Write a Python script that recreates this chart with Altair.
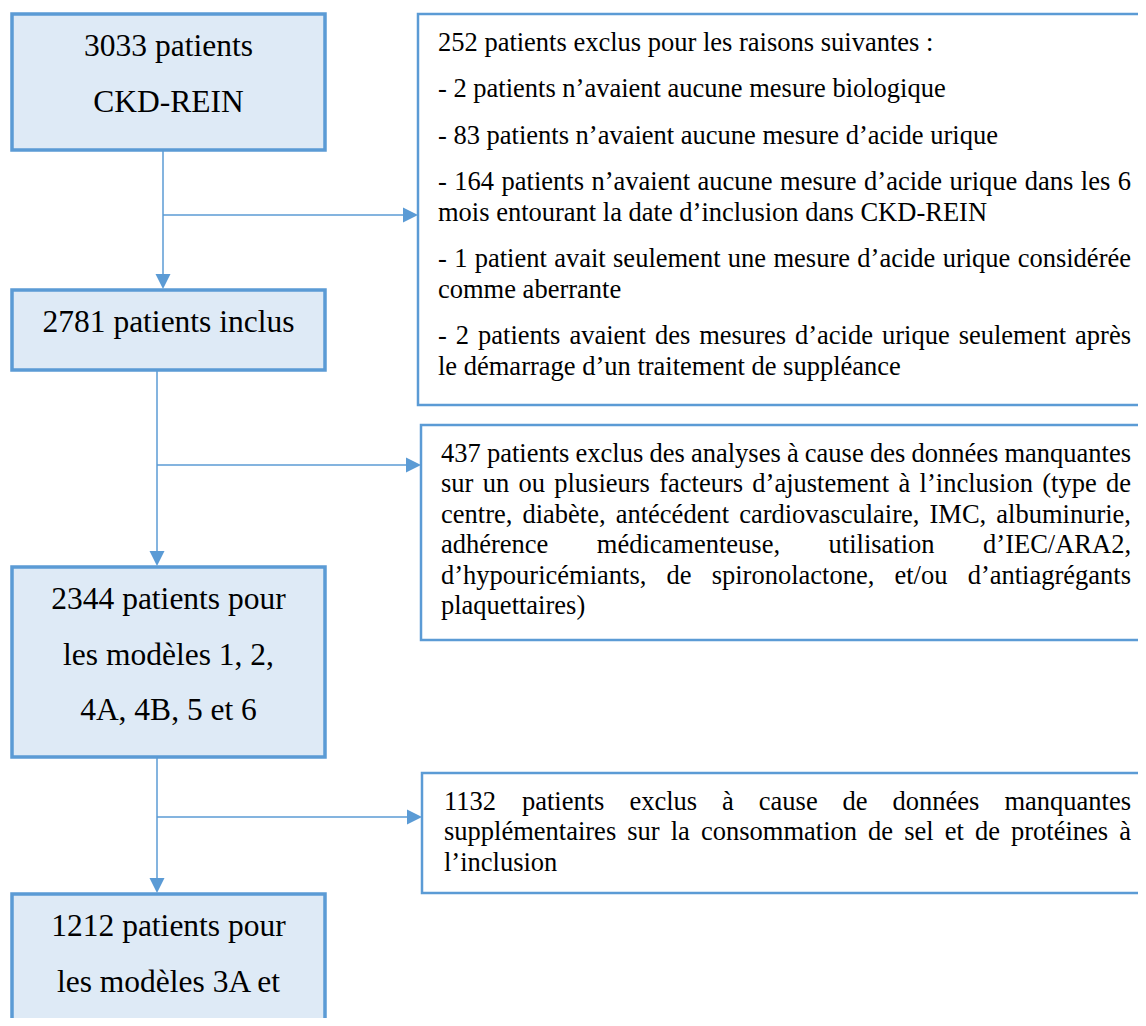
import altair as alt
import pandas as pd

# ---------------- content ----------------
main_counts = [3033, 2781, 2344, 1212]
main_lines = [
    ["3033 patients", "CKD-REIN"],
    ["2781 patients inclus"],
    ["2344 patients pour", "les modèles 1, 2,", "4A, 4B, 5 et 6"],
    ["1212 patients pour", "les modèles 3A et"],
]
excluded_counts = [252, 437, 1132]
excluded_paragraphs = [
    [
        ["252 patients exclus pour les raisons suivantes :"],
        ["- 2 patients n’avaient aucune mesure biologique"],
        ["- 83 patients n’avaient aucune mesure d’acide urique"],
        ["- 164 patients n’avaient aucune mesure d’acide urique dans les 6",
         "mois entourant la date d’inclusion dans CKD-REIN"],
        ["- 1 patient avait seulement une mesure d’acide urique considérée",
         "comme aberrante"],
        ["- 2 patients avaient des mesures d’acide urique seulement après",
         "le démarrage d’un traitement de suppléance"],
    ],
    [
        ["437 patients exclus des analyses à cause des données manquantes",
         "sur un ou plusieurs facteurs d’ajustement à l’inclusion (type de",
         "centre, diabète, antécédent cardiovasculaire, IMC, albuminurie,",
         "adhérence médicamenteuse, utilisation d’IEC/ARA2,",
         "d’hypouricémiants, de spironolactone, et/ou d’antiagrégants",
         "plaquettaires)"],
    ],
    [
        ["1132 patients exclus à cause de données manquantes",
         "supplémentaires sur la consommation de sel et de protéines à",
         "l’inclusion"],
    ],
]

# ---------------- layout (page pixels) ----------------
BLUE = "#5B9BD5"
FILL = "#DEEAF6"
FONT = "Liberation Serif"
MAIN_FS = 31.5
SIDE_FS = 26.5

main_x = (12, 325)
main_y = [(14, 150), (290, 370), (567, 757), (894, 1040)]
main_first = 33
main_pitch = 55.5

side_x = [418, 421, 422]
side_right = 1160
side_y = [(14, 405), (425, 640), (773, 893)]
side_text_left = [438, 441, 444]
side_text_right = 1131
side_first = 28.5
side_pitch = 30.5
side_para_gap = 16

stem_x = [163, 157, 157]
branch_y = [215, 465, 817]
head = 15

# Times / Liberation Serif advance widths (per 1000 em)
W = {' ': 250, '-': 333, ',': 250, '.': 250, ':': 278, '/': 278, '(': 333, ')': 333,
     '’': 333, "'": 333}
for c in "0123456789":
    W[c] = 500
W.update(dict(A=722, B=667, C=667, D=722, E=611, F=556, G=722, H=722, I=333, J=389,
              K=722, L=611, M=889, N=722, O=722, P=556, Q=722, R=667, S=556, T=611,
              U=722, V=722, W=944, X=722, Y=722, Z=611))
W.update(dict(a=444, b=500, c=444, d=500, e=444, f=333, g=500, h=500, i=278, j=278,
              k=500, l=278, m=778, n=500, o=500, p=500, q=500, r=333, s=389, t=278,
              u=500, v=500, w=722, x=500, y=500, z=444))
W.update({'é': 444, 'è': 444, 'à': 444, 'ê': 444})


def tw(s, fs):
    return sum(W.get(ch, 500) for ch in s) * fs / 1000.0


# ---------------- tables ----------------
main_rect = pd.DataFrame([
    {"x": main_x[0], "x2": main_x[1], "y": a, "y2": b, "n": n}
    for (a, b), n in zip(main_y, main_counts)
])
side_rect = pd.DataFrame([
    {"x": x0, "x2": side_right, "y": a, "y2": b, "n": n}
    for x0, (a, b), n in zip(side_x, side_y, excluded_counts)
])

main_text_rows = []
cx = (main_x[0] + main_x[1]) / 2
for (top, _), lines in zip(main_y, main_lines):
    for i, line in enumerate(lines):
        main_text_rows.append({"x": cx, "y": top + main_first + i * main_pitch, "t": line})
main_text = pd.DataFrame(main_text_rows)

side_text_rows = []
for (top, _), left, paras in zip(side_y, side_text_left, excluded_paragraphs):
    y = top + side_first
    width = side_text_right - left
    for para in paras:
        for li, line in enumerate(para):
            last = li == len(para) - 1
            words = line.split(" ")
            if last or len(words) < 2:
                side_text_rows.append({"x": left, "y": y, "t": line})
            else:
                ws = [tw(w, SIDE_FS) for w in words]
                gap = (width - sum(ws)) / (len(words) - 1)
                xx = left
                for w, wv in zip(words, ws):
                    side_text_rows.append({"x": xx, "y": y, "t": w})
                    xx += wv + gap
            y += side_pitch
        y += side_para_gap
side_text = pd.DataFrame(side_text_rows)

rules = []
arrows_down = []
arrows_right = []
for i in range(3):
    sx = stem_x[i]
    y_from = main_y[i][1]
    y_tip = main_y[i + 1][0] - 1
    rules.append({"x": sx, "x2": sx, "y": y_from, "y2": y_tip - head + 2})
    arrows_down.append({"x": sx, "y": y_tip - head / 2})
    by = branch_y[i]
    x_tip = side_x[i]
    rules.append({"x": sx, "x2": x_tip - head + 2, "y": by, "y2": by})
    arrows_right.append({"x": x_tip - head / 2, "y": by})
rules = pd.DataFrame(rules)
arrows_down = pd.DataFrame(arrows_down)
arrows_right = pd.DataFrame(arrows_right)

# ---------------- chart ----------------
xs = alt.Scale(domain=[8, 1138], nice=False, zero=False)
ys = alt.Scale(domain=[8, 1018], nice=False, zero=False, reverse=True)
X = alt.X("x:Q", scale=xs, axis=None)
Y = alt.Y("y:Q", scale=ys, axis=None)

main_boxes = alt.Chart(main_rect).mark_rect(
    fill=FILL, stroke=BLUE, strokeWidth=3.5, clip=True
).encode(x=X, x2="x2:Q", y=Y, y2="y2:Q")

side_boxes = alt.Chart(side_rect).mark_rect(
    fill="white", stroke=BLUE, strokeWidth=2.5, clip=True
).encode(x=X, x2="x2:Q", y=Y, y2="y2:Q")

links = alt.Chart(rules).mark_rule(color=BLUE, strokeWidth=1.5).encode(
    x=X, x2="x2:Q", y=Y, y2="y2:Q")

heads_down = alt.Chart(arrows_down).mark_point(
    shape="M-1,-1L1,-1L0,1Z", size=head * head, filled=True, color=BLUE, opacity=1
).encode(x=X, y=Y)

heads_right = alt.Chart(arrows_right).mark_point(
    shape="M-1,-1L1,0L-1,1Z", size=head * head, filled=True, color=BLUE, opacity=1
).encode(x=X, y=Y)

main_labels = alt.Chart(main_text).mark_text(
    font=FONT, fontSize=MAIN_FS, align="center", baseline="middle", color="black", clip=True
).encode(x=X, y=Y, text="t:N")

side_labels = alt.Chart(side_text).mark_text(
    font=FONT, fontSize=SIDE_FS, align="left", baseline="middle", color="black", clip=True
).encode(x=X, y=Y, text="t:N")

chart = alt.layer(
    main_boxes, side_boxes, links, heads_down, heads_right, main_labels, side_labels
).properties(width=1130, height=1010, padding=0, background="white").configure_view(stroke=None)

chart.save("out.html", embed_options={"renderer": "svg", "actions": False})
